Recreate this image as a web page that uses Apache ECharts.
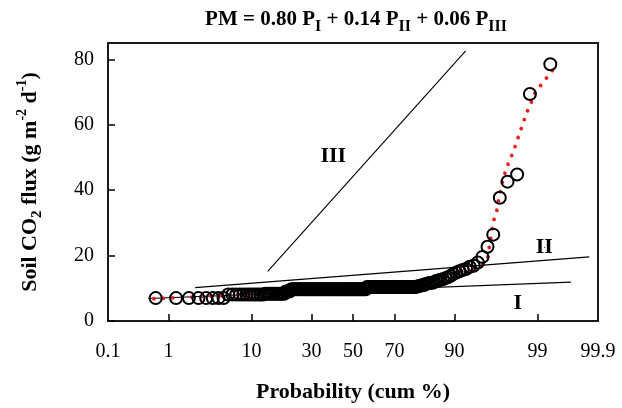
<!DOCTYPE html>
<html>
<head>
<meta charset="utf-8">
<script src="https://cdn.jsdelivr.net/npm/echarts@6/dist/echarts.min.js"></script>
<style>
html,body{margin:0;padding:0;background:#fff;}
#c{width:622px;height:408px;}
</style>
</head>
<body>
<div id="c"></div>
<script>
// ---- data ----
// sorted soil CO2 flux observations (plotted at cumulative probability i/(n+1))
const fluxValues = [
  7.0,7.0,7.0,7.0,7.0,7.0,7.0,7.0,
  8.1,8.1,8.1,8.1,8.1,8.1,8.1,8.1,8.1,8.1,8.1,8.1,
  8.3,8.3,8.3,8.3,8.3,8.3,8.3,8.3,8.3,8.3,
  9.0,9.0,9.0,
  9.7,9.7,9.7,9.7,9.7,9.7,9.7,9.7,9.7,9.7,9.7,9.7,9.7,9.7,9.7,9.7,9.7,9.7,9.7,9.7,
  9.7,9.7,9.7,9.7,9.7,9.7,9.7,9.7,9.7,9.7,9.7,9.7,9.7,9.7,9.7,9.7,9.7,9.7,9.7,9.7,
  9.7,9.7,9.7,9.7,9.7,9.7,9.7,9.7,9.7,9.7,9.7,9.7,9.7,9.7,9.7,
  10.4,10.4,10.4,10.4,10.4,10.4,10.4,10.4,10.4,10.4,10.4,10.4,10.4,10.4,10.4,10.4,10.4,
  10.4,10.4,10.4,10.4,10.4,10.4,10.4,10.4,10.4,10.4,10.4,10.4,10.4,10.4,10.4,10.4,10.4,
  10.5,10.6,10.8,10.9,11.0,11.3,11.5,11.6,11.7,11.8,12.2,12.4,12.6,12.8,13.1,13.4,13.8,
  14.4,14.8,15.2,15.6,15.9,16.6,16.9,17.9,19.6,22.7,26.4,37.7,42.6,44.8,69.4,78.5
];
// fitted mixture curve (red dotted): cumulative % and flux
const curveP = [0.6,1.0,2.0,3.5,5.0,7.0,10,15,20,30,42,50,60,67,75,80,83,85,86.7,88.1,89.7,91.5,92.6,93.5,94.5,95.3,95.6,95.72,95.9,96.05,96.26,96.58,96.69,96.87,97.05,97.3,97.56,97.84,98.05,98.24,98.41,98.57,98.75,98.89,99.13,99.33,99.49];
const curveV = [6.8,7.0,7.3,7.6,7.8,8.0,8.3,8.6,8.8,9.1,9.45,9.6,9.85,10.2,10.6,11.0,11.8,12.3,13.0,13.6,14.3,14.9,15.4,15.9,16.7,17.9,19.9,22.7,25.8,28.6,31.4,34.4,37.5,40.2,43.0,46.0,48.9,51.7,54.8,57.7,60.6,63.6,66.4,69.4,72.4,75.3,78.3];
// population lines I, II, III (end points: cumulative %, flux)
const lineI_P = [0.49, 99.70];   const lineI_V = [6.9, 11.9];
const lineII_P = [2.32, 99.856]; const lineII_V = [10.2, 19.6];
const lineIII_P = [14.1, 92.24]; const lineIII_V = [15.2, 82.6];
// population labels
const popNames = ['I','II','III'];
const popLabelP = [98.11, 99.21, 40.2];
const popLabelV = [5.5, 22.5, 50.4];
// axis tick labels
const xTickLabels = ['0.1','1','10','30','50','70','90','99','99.9'];
const xTickMarks = ['1','10','30','50','70','90','99'];
const yTickValues = [0,20,40,60,80];

// ---- normal probability scale ----
function probit(p){
  const a=[-3.969683028665376e+01,2.209460984245205e+02,-2.759285104469687e+02,1.383577518672690e+02,-3.066479806614716e+01,2.506628277459239e+00];
  const b=[-5.447609879822406e+01,1.615858368580409e+02,-1.556989798598866e+02,6.680131188771720e+01,-1.328068155288572e+01];
  const c=[-7.784894002430293e-03,-3.223964580411365e-01,-2.400758277161838e+00,-2.549732539343734e+00,4.374664141464968e+00,2.938163982698783e+00];
  const d=[7.784695709041462e-03,3.224671290700398e-01,2.445134137142996e+00,3.754408661907416e+00];
  const pl=0.02425, ph=1-pl; let q,r;
  if(p<pl){q=Math.sqrt(-2*Math.log(p));return (((((c[0]*q+c[1])*q+c[2])*q+c[3])*q+c[4])*q+c[5])/((((d[0]*q+d[1])*q+d[2])*q+d[3])*q+1);}
  if(p>ph){q=Math.sqrt(-2*Math.log(1-p));return -(((((c[0]*q+c[1])*q+c[2])*q+c[3])*q+c[4])*q+c[5])/((((d[0]*q+d[1])*q+d[2])*q+d[3])*q+1);}
  q=p-0.5;r=q*q;return (((((a[0]*r+a[1])*r+a[2])*r+a[3])*r+a[4])*r+a[5])*q/(((((b[0]*r+b[1])*r+b[2])*r+b[3])*r+b[4])*r+1);
}
const zp = pct => probit(pct/100);

const n = fluxValues.length;
const obsData = fluxValues.map((v,i)=>[probit((i+1)/(n+1)), v]);
const curveData = curveP.map((p,i)=>[zp(p), curveV[i]]);
const mkLine = (P,V)=>P.map((p,i)=>[zp(p),V[i]]);
const labelData = popNames.map((nm,i)=>({name:nm, value:[zp(popLabelP[i]), popLabelV[i]]}));

const xLabelZ = xTickLabels.map(s=>zp(parseFloat(s)));
const xTickZ = xTickMarks.map(s=>zp(parseFloat(s)));
const zMin = zp(0.1), zMax = zp(99.9);

const serif = '"Liberation Serif", "DejaVu Serif", serif';

const chart = echarts.init(document.getElementById('c'), null, {renderer:'canvas'});
chart.setOption({
  animation:false,
  backgroundColor:'#fff',
  title:{
    text:'PM = 0.80 P{s|I} + 0.14 P{s|II} + 0.06 P{s|III}',
    left:351, top:0, textAlign:'center',
    textStyle:{
      fontFamily:serif, fontWeight:'bold', fontSize:21, color:'#000', lineHeight:30,
      rich:{ s:{fontFamily:serif, fontWeight:'bold', fontSize:16, color:'#000', verticalAlign:'bottom', lineHeight:30} }
    }
  },
  grid:{left:108, right:24, top:43, bottom:86, show:true, borderColor:'#1a1a1a', borderWidth:2, backgroundColor:'transparent'},
  xAxis:{
    type:'value', min:zMin, max:zMax,
    name:'Probability (cum %)', nameLocation:'middle', nameGap:60,
    nameTextStyle:{fontFamily:serif, fontWeight:'bold', fontSize:22, color:'#000'},
    axisLine:{show:false, onZero:false},
    splitLine:{show:false},
    axisTick:{show:true, inside:true, length:7, lineStyle:{color:'#000', width:1.5}, customValues:xTickZ},
    axisLabel:{
      show:true, margin:21, color:'#000', fontFamily:serif, fontSize:20,
      customValues:xLabelZ,
      formatter:function(v){
        let best=0, bd=1e9;
        xLabelZ.forEach((z,i)=>{const dd=Math.abs(z-v); if(dd<bd){bd=dd;best=i;}});
        return xTickLabels[best];
      }
    }
  },
  yAxis:{
    type:'value', min:0, max:85,
    name:'Soil CO{sub|2} flux (g m{sup|-2} d{sup|-1})',
    nameLocation:'middle', nameGap:63, nameRotate:90,
    nameTextStyle:{
      fontFamily:serif, fontWeight:'bold', fontSize:22, color:'#000', lineHeight:30,
      rich:{
        sub:{fontFamily:serif, fontWeight:'bold', fontSize:15, color:'#000', verticalAlign:'bottom', lineHeight:30},
        sup:{fontFamily:serif, fontWeight:'bold', fontSize:14, color:'#000', verticalAlign:'top', lineHeight:30}
      }
    },
    axisLine:{show:false, onZero:false},
    splitLine:{show:false},
    axisTick:{show:true, inside:true, length:7, lineStyle:{color:'#000', width:1.5}, customValues:yTickValues},
    axisLabel:{show:true, margin:14, color:'#000', fontFamily:serif, fontSize:20, customValues:yTickValues}
  },
  series:[
    {type:'line', data:mkLine(lineI_P,lineI_V), showSymbol:false, symbol:'none', lineStyle:{color:'#000', width:1.1}, z:1, silent:true},
    {type:'line', data:mkLine(lineII_P,lineII_V), showSymbol:false, symbol:'none', lineStyle:{color:'#000', width:1.1}, z:1, silent:true},
    {type:'line', data:mkLine(lineIII_P,lineIII_V), showSymbol:false, symbol:'none', lineStyle:{color:'#000', width:1.1}, z:1, silent:true},
    {type:'line', data:curveData, showSymbol:false, symbol:'none', smooth:false,
     lineStyle:{color:'#ee1c1c', width:3.8, type:[0.01, 9.5], cap:'round'}, z:2, silent:true},
    {type:'scatter', data:obsData, symbol:'circle', symbolSize:12,
     itemStyle:{color:'rgba(255,255,255,0)', borderColor:'#000', borderWidth:2, opacity:1}, z:3, silent:true},
    {type:'scatter', data:labelData, symbolSize:1, z:5, silent:true,
     itemStyle:{color:'#000', opacity:1},
     label:{show:true, position:'inside', formatter:'{b}', fontFamily:serif, fontWeight:'bold', fontSize:22,
            color:'#000', opacity:1, textBorderWidth:0, textBorderColor:'transparent'}}
  ]
});
</script>
</body>
</html>
